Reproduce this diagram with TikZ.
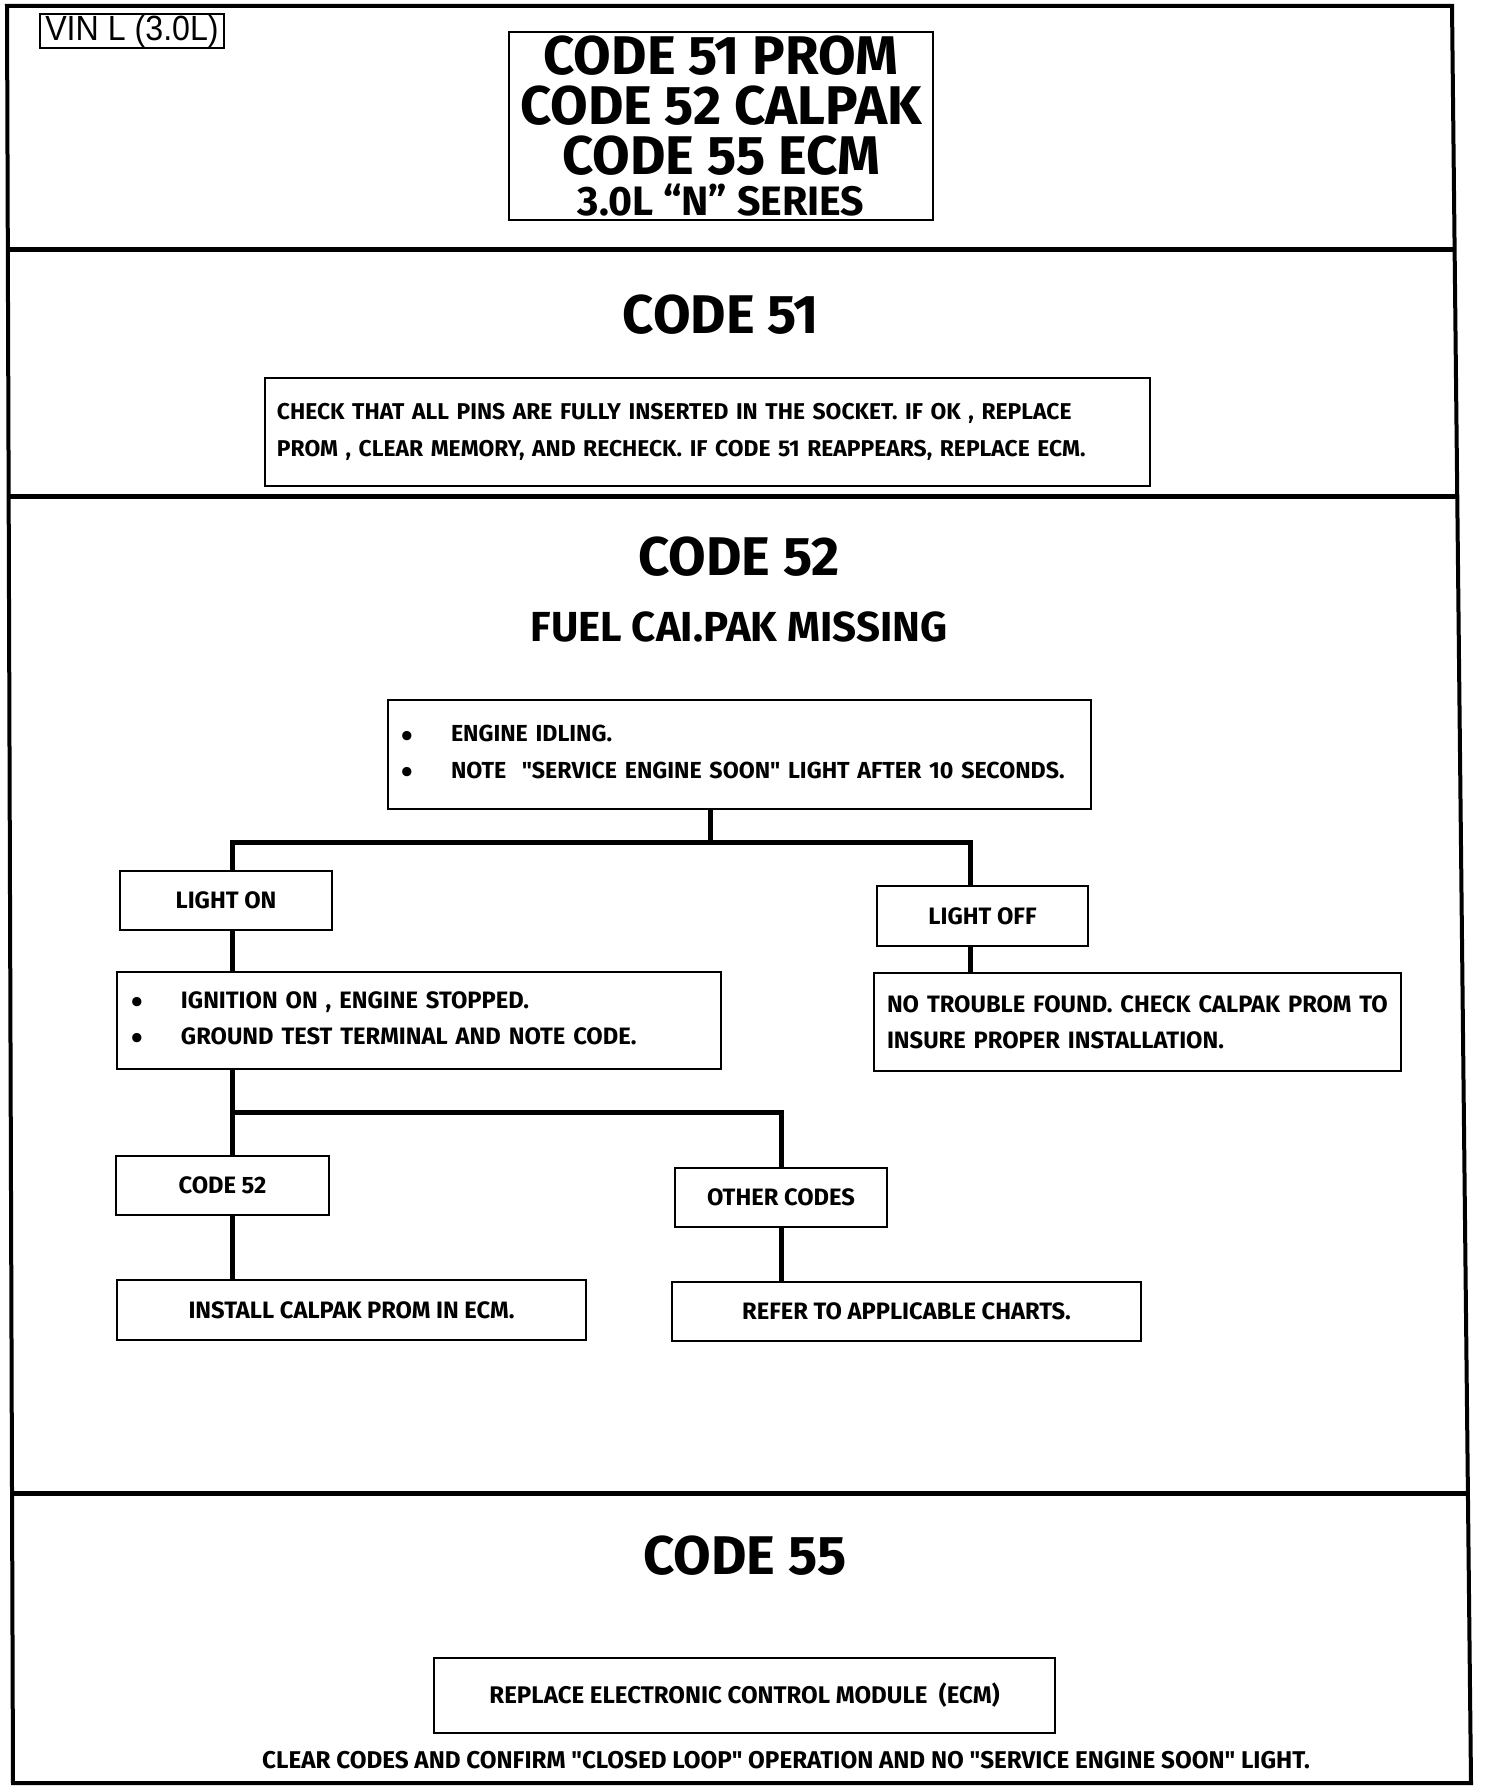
\documentclass[tikz,border=0pt]{standalone}
\usepackage{fontspec}
\setmainfont{Fira Sans}[Ligatures=TeXOff]
\newfontfamily\narrowfont[FakeStretch=0.92]{Liberation Sans}
\usetikzlibrary{calc}
\newcommand\bodyfont{\fontsize{13.5}{20.7}\selectfont\bfseries}
\newcommand\bul[1]{\makebox[#1][l]{\fontsize{19}{19}\selectfont\raisebox{-0.3ex}{•}}}

\begin{document}
\begin{tikzpicture}[x=0.2mm,y=-0.2mm,
    chartbox/.style={draw, line width=0.5mm, inner sep=0pt, font=\bodyfont},
    wire/.style={line width=1mm},
    heading/.style={anchor=base, inner sep=0pt, font=\fontsize{31}{32}\selectfont\bfseries}]
\useasboundingbox (0,0) rectangle (1504,1788);

% Outer frame (slightly skewed, as scanned)
\coordinate (tl) at (7,6);
\coordinate (tr) at (1452,6);
\coordinate (br) at (1471,1783);
\coordinate (bl) at (13,1783);
\draw[line width=0.8mm] (tl) -- (tr) -- (br) -- (bl) -- cycle;

% Section dividers
\foreach \f in {0.137,0.276,0.837}
    \draw[line width=1mm] ($(tl)!\f!(bl)$) -- ($(tr)!\f!(br)$);

% Title block
\node[draw, line width=0.4mm, minimum width=36.8mm, minimum height=6.8mm, inner sep=0pt,
      font=\narrowfont\fontsize{19.9}{20}\selectfont] (vin) at (132,31) {VIN L (3.0L)};
\node[draw, line width=0.4mm, minimum width=84.8mm, minimum height=37.6mm, inner sep=0pt, align=center,
      font=\fontsize{31}{28.45}\selectfont\bfseries] (title) at (721,126)
    {CODE 51 PROM\\CODE 52 CALPAK\\CODE 55 ECM\\[-5.1pt]{\fontsize{23.4}{24}\selectfont 3.0L “N” SERIES}};

% Code 51
\node[heading] (h51) at (721,333) {CODE 51};
\node[chartbox, font=\fontsize{13}{20.7}\selectfont\bfseries, minimum width=177mm, minimum height=21.6mm,
      text width=172.2mm, inner xsep=2.4mm, align=left]
    (check) at (707.5,432) {CHECK THAT ALL PINS ARE FULLY INSERTED IN THE SOCKET. IF OK , REPLACE\\
    PROM , CLEAR MEMORY, AND RECHECK. IF CODE 51 REAPPEARS, REPLACE ECM.};

% Code 52
\node[heading] (h52) at (739,575) {CODE 52};
\node[heading, font=\fontsize{23.9}{24}\selectfont\bfseries] (fuel) at (739,641) {FUEL CAI.PAK MISSING};

\node[chartbox, font=\fontsize{13.2}{20.7}\selectfont\bfseries, minimum width=140.6mm, minimum height=21.8mm,
      text width=135.4mm, inner xsep=2.6mm, align=left]
    (engine) at (739.5,754.5) {\bul{10mm}ENGINE IDLING.\\
    \bul{10mm}NOTE~ "SERVICE ENGINE SOON" LIGHT AFTER 10 SECONDS.};
\node[chartbox, minimum width=42.4mm, minimum height=11.8mm] (lighton) at (226,900.5) {LIGHT ON};
\node[chartbox, minimum width=42.2mm, minimum height=12mm] (lightoff) at (982.5,916) {LIGHT OFF};
\node[chartbox, minimum width=120.8mm, minimum height=19.4mm, text width=114.8mm, inner xsep=3mm, align=left]
    (ignition) at (419,1020.5) {\bul{9.8mm}IGNITION ON , ENGINE STOPPED.\\
    \bul{9.8mm}GROUND TEST TERMINAL AND NOTE CODE.};
\node[chartbox, minimum width=105.4mm, minimum height=19.6mm, text width=100.2mm, inner xsep=2.6mm, align=left]
    (notrouble) at (1137.5,1022) {NO TROUBLE FOUND. CHECK CALPAK PROM TO\\
    INSURE PROPER INSTALLATION.};
\node[chartbox, minimum width=42.6mm, minimum height=11.8mm] (code52) at (222.5,1185.5) {CODE 52};
\node[chartbox, minimum width=42.4mm, minimum height=11.8mm] (other) at (781,1197.5) {OTHER CODES};
\node[chartbox, minimum width=93.8mm, minimum height=12mm] (install) at (351.5,1310) {INSTALL CALPAK PROM IN ECM.};
\node[chartbox, minimum width=93.8mm, minimum height=11.8mm] (refer) at (906.5,1311.5) {REFER TO APPLICABLE CHARTS.};

% Branch points
\coordinate (jtop) at (710,842);
\coordinate (jon) at (232,842);
\coordinate (joff) at (970,842);
\coordinate (jmid) at (232,1112);
\coordinate (joth) at (781,1112);

\draw[wire] (engine.south -| jtop) -- (jtop);
\draw[wire] (jon |- lighton.north) -- (jon) -- (joff) -- (joff |- lightoff.north);
\draw[wire] (jon |- lighton.south) -- (jon |- ignition.north);
\draw[wire] (joff |- lightoff.south) -- (joff |- notrouble.north);
\draw[wire] (jmid |- code52.north) -- (jmid |- ignition.south) (jmid) -- (joth) -- (joth |- other.north);
\draw[wire] (jmid |- code52.south) -- (jmid |- install.north);
\draw[wire] (joth |- other.south) -- (joth |- refer.north);

% Code 55
\node[heading] (h55) at (745,1574) {CODE 55};
\node[chartbox, font=\fontsize{13.7}{20.7}\selectfont\bfseries, minimum width=124.2mm, minimum height=15mm]
    (ecm) at (744.5,1695.5) {REPLACE ELECTRONIC CONTROL MODULE~ (ECM)};
\node[anchor=base, font=\fontsize{13.8}{20.7}\selectfont\bfseries] (confirm) at (786,1768)
    {CLEAR CODES AND CONFIRM "CLOSED LOOP" OPERATION AND NO "SERVICE ENGINE SOON" LIGHT.};
\end{tikzpicture}
\end{document}
